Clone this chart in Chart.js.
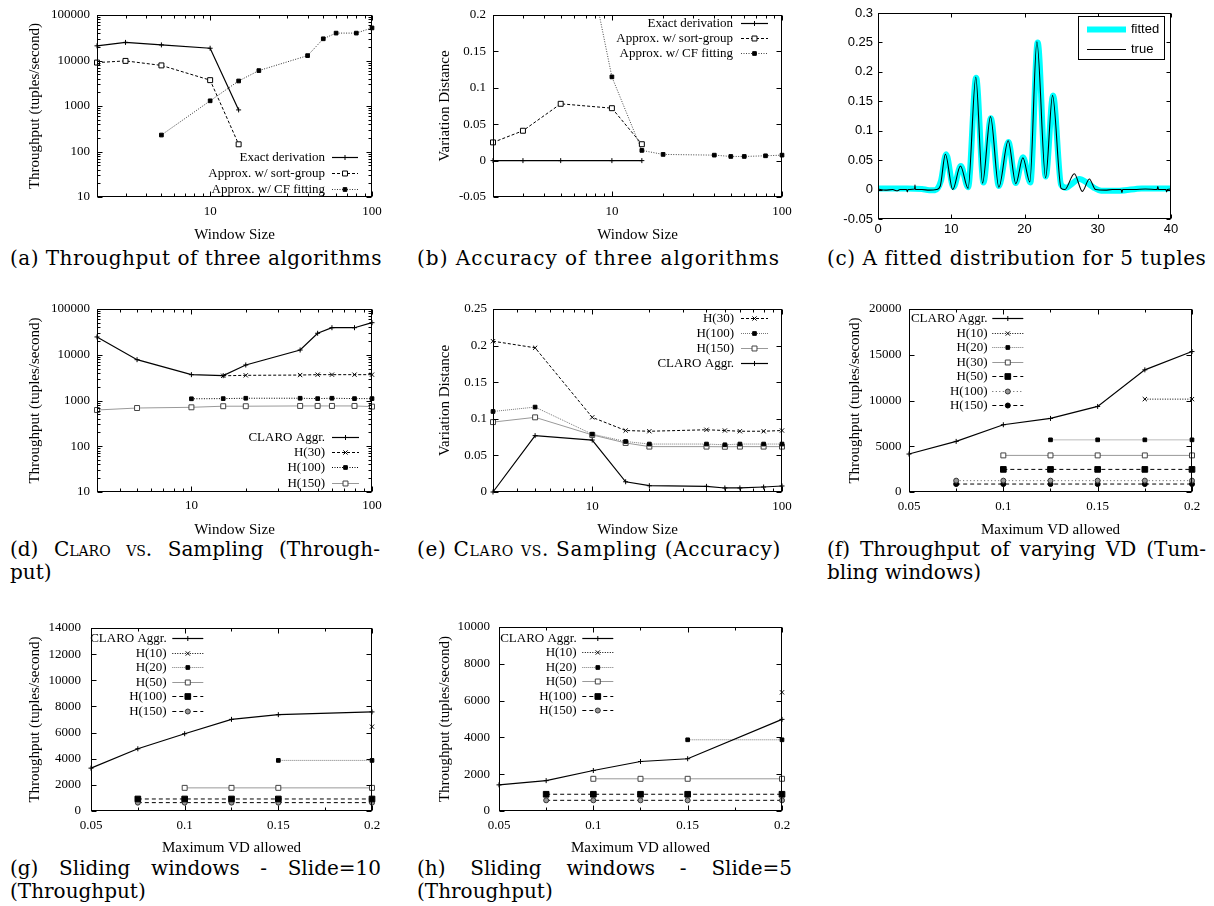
<!DOCTYPE html>
<html><head><meta charset="utf-8">
<script src="https://cdn.jsdelivr.net/npm/chart.js@4/dist/chart.umd.min.js"></script>
<style>
html,body{margin:0;padding:0;background:#fff}
body{width:1214px;height:906px;position:relative;overflow:hidden}
canvas{position:absolute}
.cap{position:absolute;font-family:"DejaVu Serif",serif;font-size:20px;line-height:23px;color:#000;white-space:nowrap}
.sc{font-variant:small-caps}
</style></head><body>
<div class="cap" data-l="10" data-cy="258" data-w="372">(a) Throughput of three algorithms</div>
<div class="cap" data-l="417" data-cy="258" data-w="363">(b) Accuracy of three algorithms</div>
<div class="cap" data-l="827" data-cy="258" data-w="379">(c) A fitted distribution for 5 tuples</div>
<div class="cap" data-l="10" data-cy="549" data-w="370" data-m="j">(d) <span class="sc">Claro vs.</span> Sampling (Through-</div>
<div class="cap" data-l="10" data-cy="572">put)</div>
<div class="cap" data-l="417" data-cy="549" data-w="364">(e) <span class="sc">Claro vs.</span> Sampling (Accuracy)</div>
<div class="cap" data-l="827" data-cy="549" data-w="379" data-m="j">(f) Throughput of varying VD (Tum-</div>
<div class="cap" data-l="827" data-cy="572">bling windows)</div>
<div class="cap" data-l="10" data-cy="868" data-w="371" data-m="j">(g) Sliding windows - Slide=10</div>
<div class="cap" data-l="10" data-cy="891">(Throughput)</div>
<div class="cap" data-l="417" data-cy="868" data-w="375" data-m="j">(h) Sliding windows - Slide=5</div>
<div class="cap" data-l="417" data-cy="891">(Throughput)</div>
<script>
// ---------------- DATA ----------------
// (a) / (b) window sizes
const aWin = [2, 3, 5, 10, 15];
const aExact = [21000, 25000, 22000, 18600, 820];
const aSortGroup = [9000, 9800, 7800, 3700, 144];
const aCFWin = [5, 10, 15, 20, 40, 50, 60, 80, 100];
const aCF = [230, 1300, 3550, 6000, 12800, 30000, 40000, 40000, 52000];
const bExact = [0, 0, 0, 0, 0];
const bSortGroup = [0.025, 0.041, 0.078, 0.072, 0.0225];
const bCF = [0.46, 0.115, 0.014, 0.0085, 0.0075, 0.0057, 0.0057, 0.0066, 0.0075];
// (c) fitted distribution
const cFitX = [0, 2, 4, 6, 7, 7.8, 8.6, 9.3, 10.3, 11.3, 12.3, 13.4, 14.4, 15.4, 16.5, 17.8, 18.8, 19.8, 20.8, 21.8, 22.9, 23.9, 25.0, 25.7, 26.5, 27.5, 28.5, 29.5, 30.5, 33, 36, 40];
const cFitY = [0.002, 0.002, 0.002, 0.001, -0.001, -0.001, 0.015, 0.060, 0.004, 0.040, 0.004, 0.190, 0.012, 0.121, 0.006, 0.081, 0.011, 0.055, 0.012, 0.250, 0.022, 0.160, 0.008, 0.003, 0.010, 0.018, 0.012, 0.003, -0.002, -0.002, 0.002, 0.002];
const cTrueX = [0, 1, 2, 2.6, 3, 3.9, 4.0, 4.1, 5.0, 5.05, 5.1, 6, 7, 8, 8.5, 9.2, 10.2, 11.26, 12.3, 13.35, 14.27, 15.36, 16.5, 17.77, 18.82, 19.78, 20.73, 21.69, 22.88, 23.83, 25.0, 25.5, 26.8, 27.9, 28.85, 29.7, 31, 32, 33.2, 33.3, 33.4, 35, 36.5, 38.1, 38.2, 38.3, 39.3, 39.4, 39.5, 40];
const cTrueY = [0.001, -0.001, 0.000, -0.002, 0.000, 0.000, -0.004, 0.000, 0.001, 0.008, 0.000, 0.000, -0.001, 0.000, 0.006, 0.060, 0.000, 0.040, 0.002, 0.191, 0.011, 0.124, 0.004, 0.083, 0.010, 0.054, 0.013, 0.251, 0.020, 0.160, 0.002, 0.000, 0.027, -0.003, 0.018, 0.000, -0.001, 0.000, 0.000, -0.005, 0.000, 0.000, 0.001, 0.000, 0.005, 0.000, 0.000, -0.004, 0.000, 0.001];
// (d) / (e)
const dWin = [3, 5, 10, 15, 20, 40, 50, 60, 80, 100];
const dClaro = [24500, 7800, 3670, 3490, 5970, 12700, 29500, 39000, 39000, 50200];
const dH30Win = [15, 20, 40, 50, 60, 80, 100];
const dH30 = [3470, 3550, 3600, 3670, 3670, 3670, 3670];
const dH100Win = [10, 15, 20, 40, 50, 60, 80, 100];
const dH100 = [1090, 1100, 1120, 1120, 1100, 1120, 1100, 1100];
const dH150 = [620, 685, 710, 750, 750, 760, 760, 760, 760, 735];
const eH30 = [0.206, 0.197, 0.102, 0.084, 0.083, 0.085, 0.084, 0.083, 0.083, 0.084];
const eH100 = [0.110, 0.116, 0.079, 0.069, 0.0655, 0.0655, 0.0645, 0.0655, 0.0655, 0.0655];
const eH150 = [0.0955, 0.102, 0.078, 0.067, 0.062, 0.062, 0.0618, 0.062, 0.062, 0.062];
const eClaro = [0, 0.077, 0.071, 0.014, 0.0086, 0.0077, 0.0055, 0.0055, 0.0068, 0.0082];
// (f) tumbling windows
const fVD = [0.05, 0.075, 0.1, 0.125, 0.15, 0.175, 0.2];
const fClaro = [4150, 5530, 7350, 8040, 9350, 13350, 15350];
const fH10VD = [0.175, 0.2];
const fH10 = [10150, 10150];
const fH20VD = [0.125, 0.15, 0.175, 0.2];
const fH20 = [5700, 5700, 5700, 5700];
const fH30VD = [0.1, 0.125, 0.15, 0.175, 0.2];
const fH30 = [4000, 4000, 4000, 4000, 4000];
const fH50 = [2470, 2470, 2470, 2470, 2470];
const fH100VD = [0.075, 0.1, 0.125, 0.15, 0.175, 0.2];
const fH100 = [1240, 1240, 1240, 1240, 1240, 1240];
const fH150 = [870, 870, 870, 870, 870, 870];
// (g) / (h) sliding windows
const gVD = [0.05, 0.075, 0.1, 0.125, 0.15, 0.2];
const gClaro = [3280, 4760, 5910, 7010, 7370, 7580];
const gH10VD = [0.2];
const gH10 = [6450];
const gH20VD = [0.15, 0.2];
const gH20 = [3870, 3870];
const gH50VD = [0.1, 0.125, 0.15, 0.2];
const gH50 = [1770, 1770, 1770, 1770];
const gH100VD = [0.075, 0.1, 0.125, 0.15, 0.2];
const gH100 = [920, 920, 920, 920, 920];
const gH150 = [640, 640, 640, 640, 640];
const hClaro = [1420, 1650, 2200, 2690, 2840, 4980];
const hH10 = [6450];
const hH20 = [3870, 3870];
const hH50 = [1750, 1750, 1750, 1750];
const hH100 = [910, 910, 910, 910, 910];
const hH150 = [580, 580, 580, 580, 580];
// tick values
const winTicks = [10, 100];
const thrLogTicks = [10, 100, 1000, 10000, 100000];
const bYTicks = [-0.05, 0, 0.05, 0.1, 0.15, 0.2];
const cXTicks = [0, 10, 20, 30, 40];
const cYTicks = [-0.05, 0, 0.05, 0.1, 0.15, 0.2, 0.25, 0.3];
const eYTicks = [0, 0.05, 0.1, 0.15, 0.2, 0.25];
const vdTicks = [0.05, 0.1, 0.15, 0.2];
const vdMinor = [0.075, 0.125, 0.175];
const fYTicks = [0, 5000, 10000, 15000, 20000];
const gYTicks = [0, 2000, 4000, 6000, 8000, 10000, 12000, 14000];
const hYTicks = [0, 2000, 4000, 6000, 8000, 10000];

// ---------------- RENDERING ----------------
const serif = "'Liberation Serif','Times New Roman',serif";
const sans = "'Liberation Sans',Arial,sans-serif";

function logMinor(min, max) {
  const out = [];
  for (let d = Math.pow(10, Math.floor(Math.log10(min))); d < max; d *= 10)
    for (let m = 2; m <= 9; m++) { const v = d * m; if (v > min * 1.0001 && v < max * 0.9999) out.push(v); }
  return out;
}

function drawMarker(ctx, d, x, y) {
  ctx.save();
  ctx.setLineDash([]);
  ctx.lineWidth = d.pointBorderWidth;
  ctx.strokeStyle = d.pointBorderColor;
  ctx.fillStyle = d.pointBackgroundColor;
  if (Chart.helpers && Chart.helpers.drawPoint) {
    Chart.helpers.drawPoint(ctx, {pointStyle: d.pointStyle, radius: d.pointRadius, rotation: 0, borderWidth: d.pointBorderWidth}, x, y);
  }
  ctx.restore();
}

const framePlugin = {
  id: 'frame',
  afterDraw(chart) {
    const o = chart.canvas._frame; if (!o) return;
    const ctx = chart.ctx, a = chart.chartArea, xs = chart.scales.x, ys = chart.scales.y;
    const L = Math.round(a.left) + 0.5, R = Math.round(a.right) - 0.5, T = Math.round(a.top) + 0.5, B = Math.round(a.bottom) - 0.5;
    ctx.save();
    ctx.strokeStyle = '#000'; ctx.lineWidth = 1; ctx.setLineDash([]);
    ctx.beginPath();
    const vt = (v, len) => { const px = Math.round(xs.getPixelForValue(v)) + 0.5; ctx.moveTo(px, B); ctx.lineTo(px, B - len); ctx.moveTo(px, T); ctx.lineTo(px, T + len); };
    const ht = (v, len) => { const py = Math.round(ys.getPixelForValue(v)) + 0.5; ctx.moveTo(L, py); ctx.lineTo(L + len, py); ctx.moveTo(R, py); ctx.lineTo(R - len, py); };
    o.xMajor.forEach(v => vt(v, o.len));
    (o.xMinor || []).forEach(v => vt(v, o.mlen));
    o.yMajor.forEach(v => ht(v, o.len));
    (o.yMinor || []).forEach(v => ht(v, o.mlen));
    ctx.stroke();
    ctx.strokeRect(L, T, R - L, B - T);
    ctx.restore();
  }
};

const keyPlugin = {
  id: 'key',
  afterDraw(chart) {
    const o = chart.canvas._key; if (!o) return;
    const ctx = chart.ctx;
    ctx.save();
    if (o.box) {
      const [x0, y0, x1, y1] = o.box;
      ctx.fillStyle = '#fff'; ctx.fillRect(x0, y0, x1 - x0, y1 - y0);
      ctx.strokeStyle = '#000'; ctx.lineWidth = 1; ctx.strokeRect(x0 + 0.5, y0 + 0.5, x1 - x0, y1 - y0);
    }
    chart.data.datasets.forEach((d, i) => {
      const y = Math.round(o.y0 + i * o.dy) + 0.5;
      ctx.save();
      ctx.strokeStyle = d.borderColor; ctx.lineWidth = d.borderWidth;
      ctx.setLineDash(d.borderDash || []);
      ctx.beginPath(); ctx.moveTo(o.x1, y); ctx.lineTo(o.x2, y); ctx.stroke();
      ctx.restore();
      if (d.pointRadius > 0) drawMarker(ctx, d, (o.x1 + o.x2) / 2, y);
      ctx.font = o.font || ('13px ' + serif);
      ctx.fillStyle = '#000';
      ctx.textAlign = o.align || 'right';
      ctx.textBaseline = 'middle';
      ctx.fillText(d.label, o.tx, y);
    });
    ctx.restore();
  }
};

function zip(xs, ys) { return xs.map((x, i) => ({x: x, y: ys[i]})); }

const MK = {
  plus: {pointStyle: 'cross', pointRadius: 2.5},
  x: {pointStyle: 'crossRot', pointRadius: 3},
  sqOpen: {pointStyle: 'rect', pointRadius: 3.5, pointBackgroundColor: '#fff'},
  sqSmall: {pointStyle: 'rect', pointRadius: 2.6},
  sqBig: {pointStyle: 'rect', pointRadius: 4},
  circOpen: {pointStyle: 'circle', pointRadius: 2.5, pointBackgroundColor: '#fff'},
  circDot: {pointStyle: 'circle', pointRadius: 2.5, pointBackgroundColor: '#999'},
  circ: {pointStyle: 'circle', pointRadius: 2.5}
};
const DASH = {solid: [], dash: [3, 2], dot: [1, 1.5], fine: [1, 1], ddash: [4, 3], spdot: [1, 2.5]};

function ds(label, xs, ys, dash, color, mk, extra) {
  return Object.assign({
    label: label, data: zip(xs, ys), fill: false, tension: 0,
    borderWidth: 1, borderColor: color, borderDash: DASH[dash],
    pointBorderColor: '#000', pointBackgroundColor: '#000', pointBorderWidth: 1,
    clip: 6
  }, MK[mk], extra || {});
}

function makeChart(p) {
  const [L, T, W, H] = p.box;
  const [l, t, r, b] = p.area;
  const c = document.createElement('canvas');
  c.width = W; c.height = H;
  c.style.left = L + 'px'; c.style.top = T + 'px';
  c.style.width = W + 'px'; c.style.height = H + 'px';
  document.body.appendChild(c);
  const pl = p.yTitle ? (p.yTitleX - L - 9) : 0;
  const yW = l - L - pl;
  const xBottom = p.xTitle ? (p.xTitleY + 9) : (T + H);
  const pb = T + H - xBottom;
  const xH = xBottom - b;
  const tf = p.tickFont || {family: serif, size: 13};
  const titleFont = {family: serif, size: 15, lineHeight: 1.2};
  c._frame = {xMajor: p.xTicks, yMajor: p.yTicks, xMinor: p.xMinor, yMinor: p.yMinor, len: p.len || 5, mlen: 3};
  c._key = p.key;
  new Chart(c, {
    type: 'line',
    data: {datasets: p.datasets},
    options: {
      responsive: false, animation: false, events: [],
      layout: {padding: {left: pl, top: t - T, right: L + W - r, bottom: pb}},
      plugins: {legend: {display: false}, tooltip: {enabled: false}},
      elements: {line: {tension: 0}},
      scales: {
        x: {
          type: p.xType, position: 'bottom', min: p.xMin, max: p.xMax,
          grid: {display: false, drawTicks: false}, border: {display: false},
          ticks: {font: tf, color: '#000', padding: p.padX, autoSkip: false, maxRotation: 0, minRotation: 0, callback: v => String(v)},
          afterBuildTicks: s => { s.ticks = p.xTicks.map(v => ({value: v})); },
          afterFit: s => { s.height = xH; },
          title: p.xTitle ? {display: true, text: p.xTitle, font: titleFont, color: '#000', padding: 0} : {display: false}
        },
        y: {
          type: p.yType, position: 'left', min: p.yMin, max: p.yMax,
          grid: {display: false, drawTicks: false}, border: {display: false},
          ticks: {font: tf, color: '#000', padding: p.padY, autoSkip: false, callback: v => String(v)},
          afterBuildTicks: s => { s.ticks = p.yTicks.map(v => ({value: v})); },
          afterFit: s => { s.width = yW; },
          title: p.yTitle ? {display: true, text: p.yTitle, font: titleFont, color: '#000', padding: 0} : {display: false}
        }
      }
    },
    plugins: [framePlugin, keyPlugin]
  });
}

const K = '#000';
const THR = 'Throughput (tuples/second)';

// (a)
makeChart({
  box: [0, 0, 400, 250], area: [97, 15, 372, 197], yTitleX: 35, xTitleY: 235,
  xTitle: 'Window Size', yTitle: THR, xType: 'logarithmic', yType: 'logarithmic',
  xMin: 2, xMax: 100, yMin: 10, yMax: 100000, xTicks: winTicks, yTicks: thrLogTicks,
  xMinor: logMinor(2, 100), yMinor: logMinor(10, 100000), padX: 7, padY: 7,
  key: {tx: 325, x1: 332, x2: 358, y0: 157, dy: 16},
  datasets: [
    ds('Exact derivation', aWin, aExact, 'solid', K, 'plus', {borderWidth: 1.2}),
    ds('Approx. w/ sort-group', aWin, aSortGroup, 'dash', K, 'sqOpen'),
    ds('Approx. w/ CF fitting', aCFWin, aCF, 'dot', '#333', 'sqSmall')
  ]
});
// (b)
makeChart({
  box: [400, 0, 405, 250], area: [493, 15, 782, 197], yTitleX: 445, xTitleY: 235,
  xTitle: 'Window Size', yTitle: 'Variation Distance', xType: 'logarithmic', yType: 'linear',
  xMin: 2, xMax: 100, yMin: -0.05, yMax: 0.2, xTicks: winTicks, yTicks: bYTicks,
  xMinor: logMinor(2, 100), padX: 7, padY: 7,
  key: {tx: 333, x1: 341, x2: 368, y0: 23.3, dy: 15},
  datasets: [
    ds('Exact derivation', aWin, bExact, 'solid', K, 'plus', {borderWidth: 1.2}),
    ds('Approx. w/ sort-group', aWin, bSortGroup, 'dash', K, 'sqOpen'),
    ds('Approx. w/ CF fitting', aCFWin, bCF, 'dot', '#444', 'sqSmall', {clip: {left: 6, right: 6, top: 0, bottom: 6}})
  ]
});
// (c)
makeChart({
  box: [810, 0, 404, 250], area: [878, 13, 1171, 219],
  xType: 'linear', yType: 'linear', xMin: 0, xMax: 40, yMin: -0.05, yMax: 0.3,
  xTicks: cXTicks, yTicks: cYTicks, padX: 3, padY: 5, len: 4,
  tickFont: {family: sans, size: 13},
  key: {box: [268, 16, 354, 59], tx: 321, align: 'left', x1: 277, x2: 316, y0: 29.3, dy: 19.5, font: '13px ' + sans},
  datasets: [
    {label: 'fitted', data: zip(cFitX, cFitY), borderColor: '#00ffff', borderWidth: 6, pointRadius: 0, fill: false,
     cubicInterpolationMode: 'monotone', order: 1, clip: 0},
    {label: 'true', data: zip(cTrueX, cTrueY), borderColor: '#000', borderWidth: 1.1, pointRadius: 0, fill: false,
     cubicInterpolationMode: 'monotone', order: 0, clip: 0}
  ]
});
// (d)
makeChart({
  box: [0, 290, 400, 255], area: [97, 309, 372, 492], yTitleX: 35, xTitleY: 530,
  xTitle: 'Window Size', yTitle: THR, xType: 'logarithmic', yType: 'logarithmic',
  xMin: 3, xMax: 100, yMin: 10, yMax: 100000, xTicks: winTicks, yTicks: thrLogTicks,
  xMinor: logMinor(3, 100), yMinor: logMinor(10, 100000), padX: 6, padY: 7,
  key: {tx: 325, x1: 332, x2: 359, y0: 146.7, dy: 15.3},
  datasets: [
    ds('CLARO Aggr.', dWin, dClaro, 'solid', K, 'plus', {borderWidth: 1.2}),
    ds('H(30)', dH30Win, dH30, 'dash', K, 'x'),
    ds('H(100)', dH100Win, dH100, 'dot', K, 'sqSmall'),
    ds('H(150)', dWin, dH150, 'solid', '#999', 'sqOpen', {pointBorderColor: '#444'})
  ]
});
// (e)
makeChart({
  box: [400, 290, 405, 255], area: [493, 309, 782, 492], yTitleX: 445, xTitleY: 530,
  xTitle: 'Window Size', yTitle: 'Variation Distance', xType: 'logarithmic', yType: 'linear',
  xMin: 3, xMax: 100, yMin: 0, yMax: 0.25, xTicks: winTicks, yTicks: eYTicks,
  xMinor: logMinor(3, 100), padX: 6.5, padY: 6,
  key: {tx: 334, x1: 341, x2: 368, y0: 28.3, dy: 15},
  datasets: [
    ds('H(30)', dWin, eH30, 'dash', K, 'x'),
    ds('H(100)', dWin, eH100, 'fine', '#777', 'sqSmall'),
    ds('H(150)', dWin, eH150, 'solid', '#999', 'sqOpen', {pointBorderColor: '#444'}),
    ds('CLARO Aggr.', dWin, eClaro, 'solid', K, 'plus', {borderWidth: 1.2})
  ]
});
// (f)
makeChart({
  box: [810, 290, 404, 255], area: [909, 309, 1192, 492], yTitleX: 855, xTitleY: 530,
  xTitle: 'Maximum VD allowed', yTitle: THR, xType: 'linear', yType: 'linear',
  xMin: 0.05, xMax: 0.2, yMin: 0, yMax: 20000, xTicks: vdTicks, yTicks: fYTicks,
  xMinor: vdMinor, padX: 6.6, padY: 7.6,
  key: {tx: 177.5, x1: 182.3, x2: 213.3, y0: 28.3, dy: 14.45},
  datasets: [
    ds('CLARO Aggr.', fVD, fClaro, 'solid', K, 'plus', {borderWidth: 1.2}),
    ds('H(10)', fH10VD, fH10, 'dot', K, 'x'),
    ds('H(20)', fH20VD, fH20, 'fine', '#777', 'sqSmall'),
    ds('H(30)', fH30VD, fH30, 'solid', '#999', 'sqOpen', {pointBorderColor: '#444'}),
    ds('H(50)', fH30VD, fH50, 'ddash', K, 'sqBig'),
    ds('H(100)', fH100VD, fH100, 'spdot', '#555', 'circDot', {pointBorderColor: '#333'}),
    ds('H(150)', fH100VD, fH150, 'ddash', K, 'circ')
  ]
});
// (g)
makeChart({
  box: [0, 610, 400, 255], area: [91, 628, 372, 811], yTitleX: 35, xTitleY: 848,
  xTitle: 'Maximum VD allowed', yTitle: THR, xType: 'linear', yType: 'linear',
  xMin: 0.05, xMax: 0.2, yMin: 0, yMax: 14000, xTicks: vdTicks, yTicks: gYTicks,
  xMinor: vdMinor, padX: 7, padY: 10,
  key: {tx: 166.7, x1: 172.3, x2: 203.3, y0: 28.3, dy: 14.45},
  datasets: [
    ds('CLARO Aggr.', gVD, gClaro, 'solid', K, 'plus', {borderWidth: 1.2}),
    ds('H(10)', gH10VD, gH10, 'dot', K, 'x'),
    ds('H(20)', gH20VD, gH20, 'fine', '#777', 'sqSmall'),
    ds('H(50)', gH50VD, gH50, 'solid', '#999', 'sqOpen', {pointBorderColor: '#444'}),
    ds('H(100)', gH100VD, gH100, 'ddash', K, 'sqBig'),
    ds('H(150)', gH100VD, gH150, 'ddash', K, 'circDot', {pointBorderColor: '#333'})
  ]
});
// (h)
makeChart({
  box: [400, 610, 405, 255], area: [499, 627, 782, 811], yTitleX: 445, xTitleY: 848,
  xTitle: 'Maximum VD allowed', yTitle: THR, xType: 'linear', yType: 'linear',
  xMin: 0.05, xMax: 0.2, yMin: 0, yMax: 10000, xTicks: vdTicks, yTicks: hYTicks,
  xMinor: vdMinor, padX: 7, padY: 9,
  key: {tx: 176.7, x1: 182.3, x2: 213.3, y0: 27.7, dy: 14.45},
  datasets: [
    ds('CLARO Aggr.', gVD, hClaro, 'solid', K, 'plus', {borderWidth: 1.2}),
    ds('H(10)', gH10VD, hH10, 'dot', K, 'x'),
    ds('H(20)', gH20VD, hH20, 'fine', '#777', 'sqSmall'),
    ds('H(50)', gH50VD, hH50, 'solid', '#999', 'sqOpen', {pointBorderColor: '#444'}),
    ds('H(100)', gH100VD, hH100, 'ddash', K, 'sqBig'),
    ds('H(150)', gH100VD, hH150, 'ddash', K, 'circDot', {pointBorderColor: '#333'})
  ]
});

// captions
function fitCaps() {
  document.querySelectorAll('.cap').forEach(el => {
    el.style.letterSpacing = '0px'; el.style.wordSpacing = '0px';
    el.style.left = el.dataset.l + 'px';
    el.style.top = (+el.dataset.cy - 11.5) + 'px';
    const w = +el.dataset.w;
    if (!w) return;
    const nat = el.getBoundingClientRect().width;
    if (el.dataset.m === 'j') {
      const n = (el.textContent.match(/ /g) || []).length;
      el.style.wordSpacing = ((w - nat) / n) + 'px';
    } else {
      const n = el.textContent.length;
      el.style.letterSpacing = ((w - nat) / n) + 'px';
    }
  });
}
fitCaps();
if (document.fonts && document.fonts.ready) document.fonts.ready.then(fitCaps);
</script>
</body></html>
